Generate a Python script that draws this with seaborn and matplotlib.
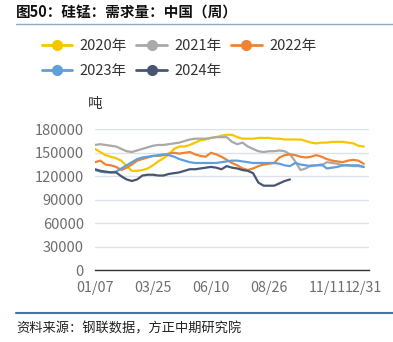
import numpy as np
import pandas as pd
import matplotlib
matplotlib.use("Agg")
import matplotlib.pyplot as plt
from matplotlib.lines import Line2D
import seaborn as sns

sns.set_theme(style="white")
plt.rcParams['font.family'] = ['Noto Sans CJK SC', 'DejaVu Sans']

# ---- data (thousand tonnes, weekly) ----
tick_labels = ["01/07", "03/25", "06/10", "08/26", "11/11", "12/31"]
tick_weeks = [0, 11, 22, 33, 44, 51]
years = ["2020年", "2021年", "2022年", "2023年", "2024年"]

y2020 = [155, 151, 147, 145, 143, 140, 133, 127, 127, 128, 130, 134, 139, 143, 148, 155,
         158, 158, 160, 163, 166, 167, 169, 170, 172, 173, 173, 170, 168, 168, 168, 169,
         169, 169, 168, 168, 167, 167, 167, 167, 165, 163, 162, 163, 163, 164, 164, 164,
         163, 162, 159, 158]
y2021 = [160, 161, 160, 159, 158, 155, 152, 151, 153, 155, 157, 159, 160, 160, 161, 162,
         163, 165, 167, 168, 168, 168, 169, 170, 170, 170, 164, 161, 163, 158, 155, 152,
         151, 152, 152, 153, 152, 148, 139, 128, 130, 134, 134, 134, 138, 137, 136, 134,
         134, 133, 133, 132]
y2022 = [138, 140, 135, 134, 132, 128, 131, 135, 140, 142, 144, 146, 146, 147, 149, 150,
         149, 150, 151, 148, 146, 145, 150, 148, 145, 141, 137, 134, 130, 128, 130, 133,
         135, 136, 137, 144, 147, 148, 147, 145, 144, 145, 147, 145, 142, 140, 139, 138,
         140, 141, 140, 136]
y2023 = [128, 126, 125, 125, 126, 130, 134, 138, 142, 144, 145, 146, 147, 148, 147, 145,
         142, 140, 138, 137, 137, 137, 137, 137, 138, 139, 140, 140, 139, 138, 137, 137,
         137, 137, 137, 136, 134, 133, 137, 135, 134, 133, 134, 135, 130, 131, 132, 134,
         134, 134, 134, 132]
y2024 = [129, 127, 126, 125, 125, 120, 116, 114, 116, 121, 122, 122, 121, 121, 123, 124,
         125, 127, 129, 129, 130, 131, 132, 131, 129, 133, 131, 130, 128, 127, 124, 112,
         108, 108, 108, 111, 114, 116]

series = [y2020, y2021, y2022, y2023, y2024]
colors = ["#F7C600", "#A9A9A9", "#EE8431", "#5FA0DC", "#465671"]

rows = []
for name, vals in zip(years, series):
    for w, v in enumerate(vals):
        rows.append({"week": w, "value": v * 1000, "year": name})
df = pd.DataFrame(rows)

W, H = 393, 342
fig = plt.figure(figsize=(W / 100, H / 100), dpi=100)
ax = fig.add_axes([95 / W, 1 - 270.3 / H, (369 - 95) / W, (270.3 - 129.3) / H])

sns.lineplot(data=df, x="week", y="value", hue="year", hue_order=years,
             palette=dict(zip(years, colors)), linewidth=1.6, legend=False, ax=ax)

ax.set_xlim(0, 52)
ax.set_ylim(0, 180000)
ax.set_yticks(np.arange(0, 180001, 30000))
ax.set_yticklabels([str(v) for v in range(0, 180001, 30000)], fontsize=10.5, color="#6E6E6E")
ax.set_xticks(tick_weeks)
ax.set_xticklabels(tick_labels, fontsize=10.3, color="#6E6E6E")
ax.set_xticks([52], minor=True)
ax.set_xlabel("")
ax.set_ylabel("")
ax.grid(axis="y", color="#DDE1EA", linewidth=1)
ax.set_axisbelow(True)
for s in ["left", "right", "top"]:
    ax.spines[s].set_visible(False)
ax.spines["bottom"].set_color("#333333")
ax.spines["bottom"].set_linewidth(1.0)
ax.tick_params(axis="x", which="both", direction="out", length=5, width=1, color="#333333", pad=3)
ax.tick_params(axis="y", length=0, pad=8)

# title & rules
fig.text(16 / W, 1 - 13 / H, "图50：硅锰：需求量：中国（周）", fontsize=10.5, fontweight="bold",
         color="#111111", va="center", ha="left")
fig.add_artist(Line2D([16 / W, 1], [1 - 24 / H, 1 - 24 / H], color="#8FA9C4", linewidth=1))
fig.add_artist(Line2D([16 / W, 1], [1 - 313 / H, 1 - 313 / H], color="#3C76B4", linewidth=1.5))
fig.text(16 / W, 1 - 329 / H, "资料来源：钢联数据，方正中期研究院", fontsize=9.5,
         color="#222222", va="center", ha="left", style="italic")
fig.text(88 / W, 1 - 104 / H, "吨", fontsize=10.5, color="#333333", va="center", ha="left")

handles = [Line2D([], [], color=c, linewidth=2, marker="o", markersize=7) for c in colors]
order = [0, 3, 1, 4, 2]
fig.legend([handles[i] for i in order], [years[i] for i in order], loc="upper left",
           bbox_to_anchor=(30 / W, 1 - 27 / H), ncol=3,
           frameon=False, fontsize=10.5, handlelength=2.1, handletextpad=0.5,
           columnspacing=0.65, labelspacing=0.75, labelcolor="#333333", borderpad=0.3)

fig.savefig("out.png", dpi=100)
